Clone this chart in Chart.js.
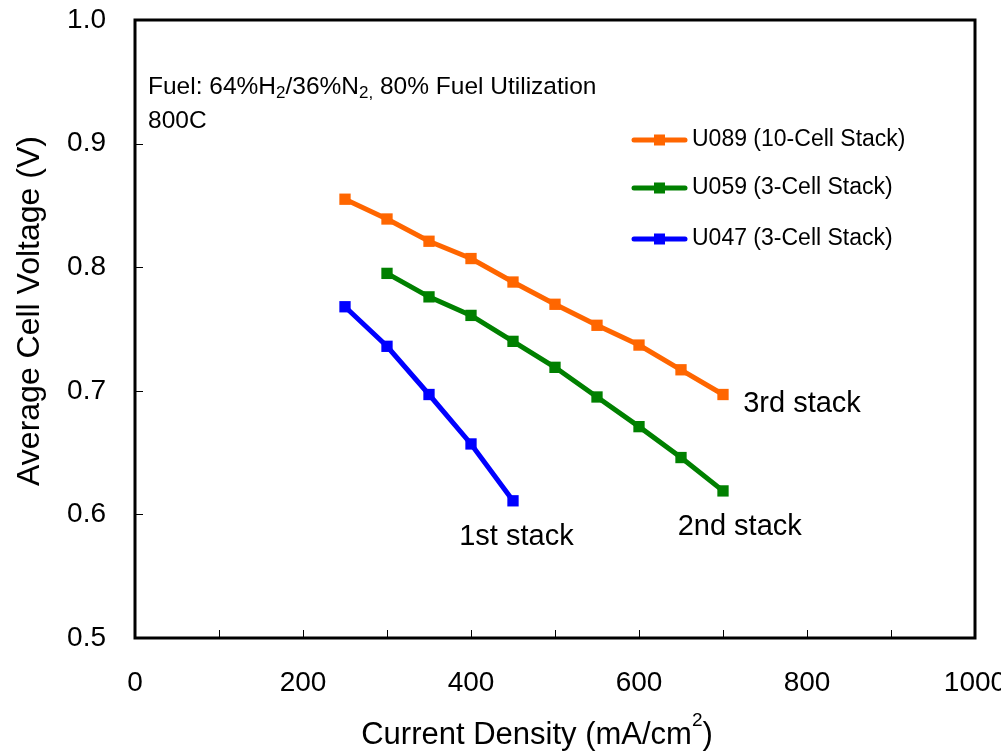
<!DOCTYPE html>
<html>
<head>
<meta charset="utf-8">
<script src="https://cdn.jsdelivr.net/npm/chart.js@4"></script>
<style>
  html, body { margin: 0; padding: 0; background: #fff; }
  #wrap { width: 1001px; height: 752px; }
</style>
</head>
<body>
<div id="wrap"><canvas id="ivChart" width="1001" height="752"></canvas></div>
<script>
// current density (mA/cm2) and average cell voltage (V) per stack
const u089_x = [250, 300, 350, 400, 450, 500, 550, 600, 650, 700];
const u089_y = [0.855, 0.839, 0.821, 0.807, 0.788, 0.770, 0.753, 0.737, 0.717, 0.697];
const u059_x = [300, 350, 400, 450, 500, 550, 600, 650, 700];
const u059_y = [0.795, 0.776, 0.761, 0.740, 0.719, 0.695, 0.671, 0.646, 0.619];
const u047_x = [250, 300, 350, 400, 450];
const u047_y = [0.768, 0.736, 0.697, 0.657, 0.611];

const series_labels = ["U089 (10-Cell Stack)", "U059 (3-Cell Stack)", "U047 (3-Cell Stack)"];
const series_colors = ["#FF6600", "#008000", "#0000FF"];

const x_ticks = [0, 200, 400, 600, 800, 1000];
const x_minor = [100, 200, 300, 400, 500, 600, 700, 800, 900];
const y_ticks = [0.5, 0.6, 0.7, 0.8, 0.9, 1.0];

// stack labels, placed in data units
const notes = [
  { text: "3rd stack", x: 724, y: 0.689 },
  { text: "2nd stack", x: 646, y: 0.590 },
  { text: "1st stack", x: 386, y: 0.582 },
];

const FONT = "'Liberation Sans', Arial, sans-serif";

function toPoints(xs, ys) {
  return xs.map((x, i) => ({ x: x, y: ys[i] }));
}

// draw frame, inward ticks, titles, legend and notes
const decorations = {
  id: "decorations",
  afterDatasetsDraw(chart) {
    const ctx = chart.ctx;
    const a = chart.chartArea;
    const xs = chart.scales.x;
    const ys = chart.scales.y;
    ctx.save();

    // inward tick marks
    ctx.strokeStyle = "#000";
    ctx.lineWidth = 1;
    x_minor.forEach((v) => {
      const px = Math.round(xs.getPixelForValue(v)) + 0.5;
      ctx.beginPath();
      ctx.moveTo(px, a.bottom);
      ctx.lineTo(px, a.bottom - 8);
      ctx.stroke();
    });
    y_ticks.forEach((v) => {
      const py = Math.round(ys.getPixelForValue(v)) + 0.5;
      ctx.beginPath();
      ctx.moveTo(a.left, py);
      ctx.lineTo(a.left + 8, py);
      ctx.stroke();
    });

    // frame
    ctx.lineWidth = 3;
    ctx.strokeRect(a.left, a.top, a.right - a.left, a.bottom - a.top);

    ctx.fillStyle = "#000";
    ctx.textBaseline = "middle";

    // x title with superscript
    const t1 = "Current Density (mA/cm";
    const t2 = ")";
    ctx.font = "31px " + FONT;
    const w1 = ctx.measureText(t1).width;
    const w3 = ctx.measureText(t2).width;
    ctx.font = "19px " + FONT;
    const w2 = ctx.measureText("2").width;
    let sx = 537 - (w1 + w2 + w3) / 2;
    ctx.textAlign = "left";
    ctx.font = "31px " + FONT;
    ctx.fillText(t1, sx, 735);
    ctx.font = "19px " + FONT;
    ctx.fillText("2", sx + w1, 721);
    ctx.font = "31px " + FONT;
    ctx.fillText(t2, sx + w1 + w2, 735);

    // y title
    ctx.save();
    ctx.translate(30, 311);
    ctx.rotate(-Math.PI / 2);
    ctx.textAlign = "center";
    ctx.font = "32px " + FONT;
    ctx.fillText("Average Cell Voltage (V)", 0, 0);
    ctx.restore();

    // fuel note with subscripts
    const parts = [
      ["Fuel: 64%H", false], ["2", true], ["/36%N", false], ["2,", true], [" 80% Fuel Utilization", false],
    ];
    let fx = a.left + 13;
    parts.forEach(([s, sub]) => {
      ctx.font = (sub ? "17px " : "24.5px ") + FONT;
      ctx.fillText(s, fx, sub ? 93 : 87);
      fx += ctx.measureText(s).width;
    });
    ctx.font = "24.5px " + FONT;
    ctx.fillText("800C", a.left + 13, 121);

    // legend
    const rows = [140, 188, 239];
    series_labels.forEach((lab, i) => {
      const y = rows[i];
      ctx.strokeStyle = series_colors[i];
      ctx.lineWidth = 5;
      ctx.lineCap = "round";
      ctx.beginPath();
      ctx.moveTo(634, y);
      ctx.lineTo(685, y);
      ctx.stroke();
      ctx.fillStyle = series_colors[i];
      ctx.fillRect(654, y - 5.5, 11, 11);
      ctx.fillStyle = "#000";
      ctx.font = "23px " + FONT;
      ctx.fillText(lab, 692, y);
    });

    // stack labels
    ctx.font = "29px " + FONT;
    notes.forEach((n) => {
      ctx.fillText(n.text, xs.getPixelForValue(n.x), ys.getPixelForValue(n.y));
    });

    ctx.restore();
  },
};

const datasets = [
  [u089_x, u089_y],
  [u059_x, u059_y],
  [u047_x, u047_y],
].map((d, i) => ({
  label: series_labels[i],
  data: toPoints(d[0], d[1]),
  showLine: true,
  borderColor: series_colors[i],
  backgroundColor: series_colors[i],
  borderWidth: 5,
  pointStyle: "rect",
  pointRadius: 8,
  pointBorderWidth: 0,
  pointHoverRadius: 8,
}));

function noPad(scale) {
  scale.paddingTop = 0;
  scale.paddingBottom = 0;
  scale.paddingLeft = 0;
  scale.paddingRight = 0;
}

new Chart(document.getElementById("ivChart"), {
  type: "scatter",
  data: { datasets: datasets },
  options: {
    responsive: false,
    animation: false,
    devicePixelRatio: 1,
    layout: { autoPadding: false, padding: { top: 20, right: 26, left: 0, bottom: 0 } },
    plugins: { legend: { display: false }, tooltip: { enabled: false } },
    scales: {
      x: {
        type: "linear",
        min: 0,
        max: 1000,
        afterFit(scale) { scale.height = 114; noPad(scale); },
        afterBuildTicks(scale) { scale.ticks = x_ticks.map((v) => ({ value: v })); },
        grid: { display: false },
        border: { display: false },
        ticks: {
          color: "#000",
          padding: 20,
          font: { size: 28, family: FONT },
          maxRotation: 0,
          callback: (v) => String(v),
        },
      },
      y: {
        type: "linear",
        min: 0.5,
        max: 1.0,
        afterFit(scale) { scale.width = 135; noPad(scale); },
        afterBuildTicks(scale) { scale.ticks = y_ticks.map((v) => ({ value: v })); },
        grid: { display: false },
        border: { display: false },
        ticks: {
          color: "#000",
          padding: 21,
          font: { size: 28, family: FONT },
          callback: (v) => v.toFixed(1),
        },
      },
    },
  },
  plugins: [decorations],
});
</script>
</body>
</html>
